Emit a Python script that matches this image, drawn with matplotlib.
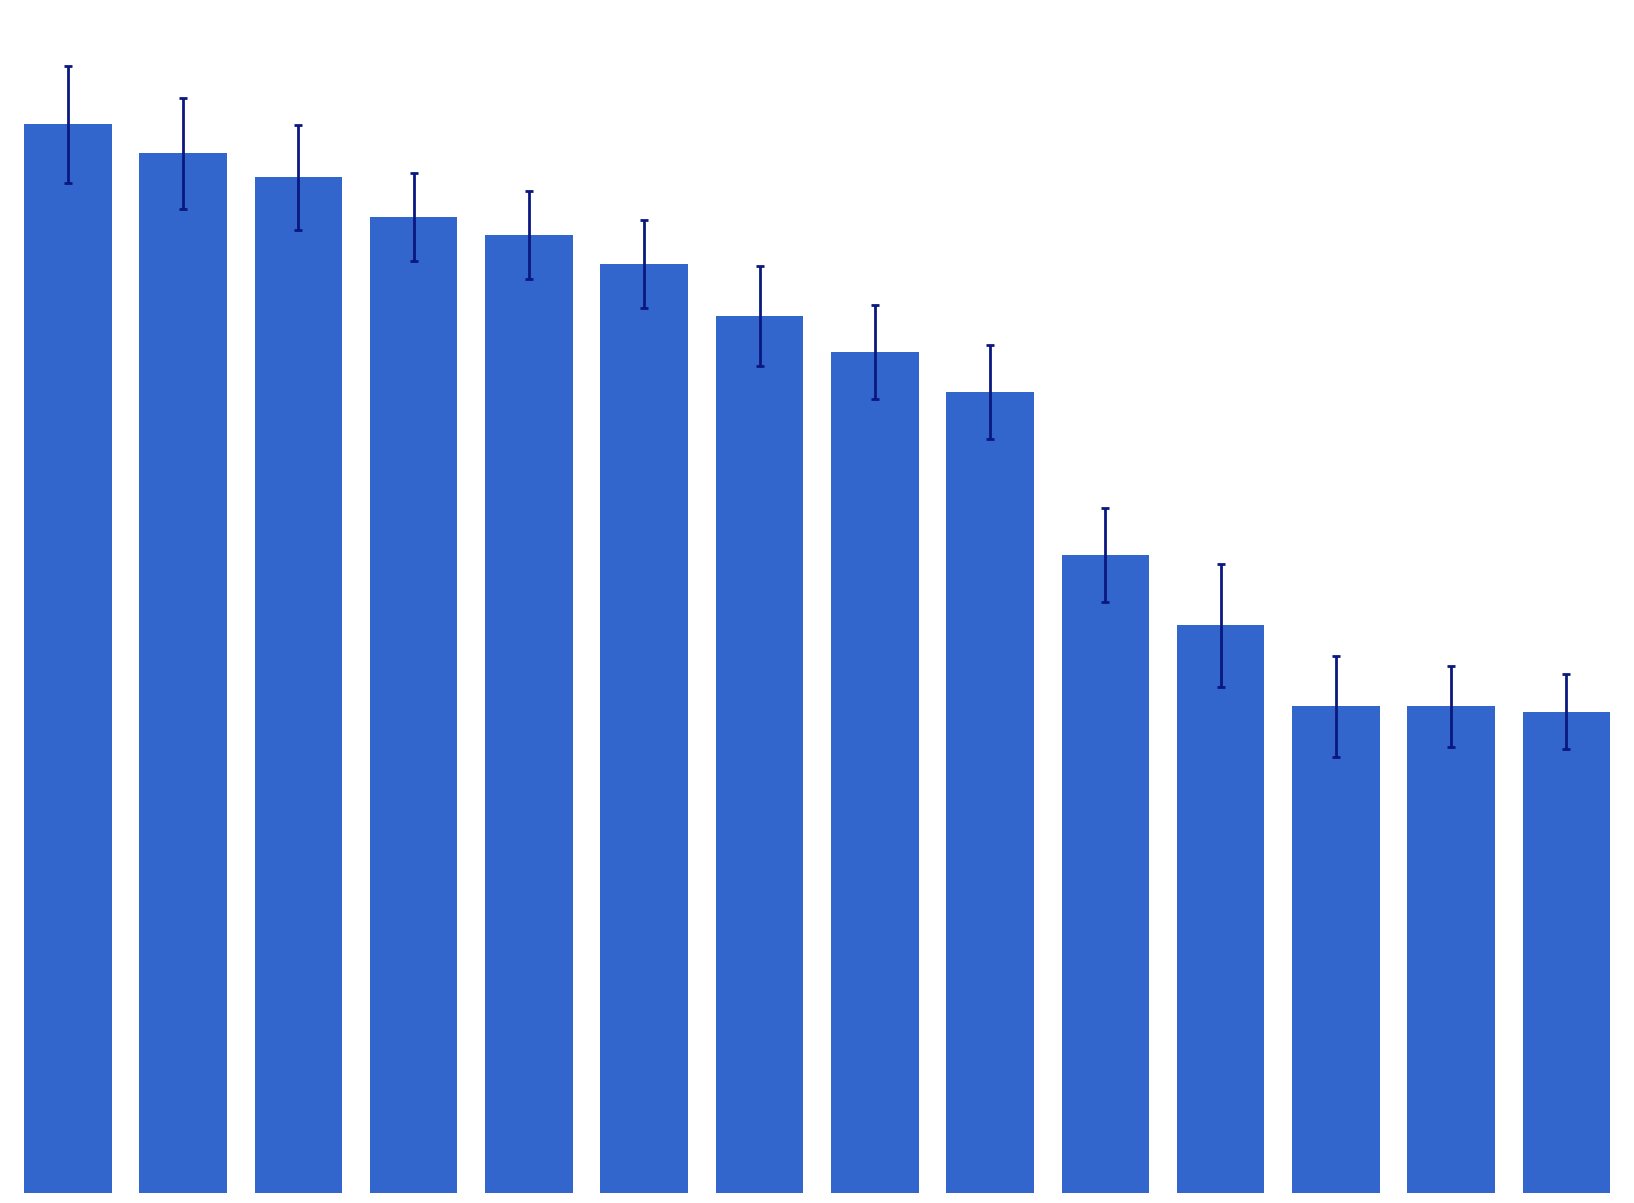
import matplotlib
matplotlib.use("Agg")
import matplotlib.pyplot as plt
import numpy as np

categories = [f"c{i}" for i in range(1, 15)]
values = [102.4, 99.6, 97.3, 93.5, 91.8, 89.0, 84.0, 80.6, 76.7, 61.1, 54.4, 46.6, 46.6, 46.1]
errors = [5.6, 5.3, 5.0, 4.2, 4.2, 4.2, 4.8, 4.5, 4.5, 4.5, 5.9, 4.8, 3.9, 3.6]

fig = plt.figure(figsize=(16.34, 12.03), dpi=100)
ax = fig.add_axes([0.0147, 0.0085, 0.9708, 0.9915])
x = np.arange(len(categories))
ax.bar(x, values, width=0.76, color="#3366cc", yerr=errors,
       error_kw=dict(ecolor="#0a1880", elinewidth=2, capsize=3, capthick=2))
ax.set_xlim(-0.38, len(categories) - 1 + 0.38)
ax.set_ylim(0, 114.3)
ax.axis("off")
fig.savefig("out.png", dpi=100)
